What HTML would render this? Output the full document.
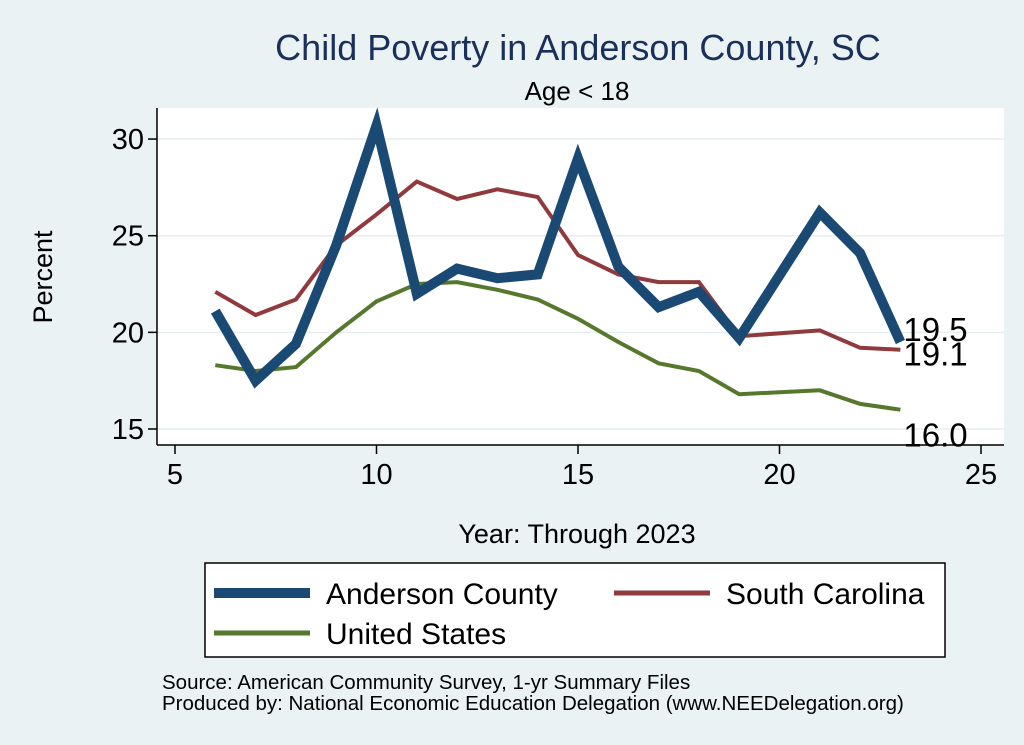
<!DOCTYPE html>
<html><head><meta charset="utf-8"><style>
body{margin:0;background:#eaf2f3;}
svg{display:block;font-family:"Liberation Sans",sans-serif;}
</style></head><body>
<svg width="1024" height="745" viewBox="0 0 1024 745">
<rect x="0" y="0" width="1024" height="745" fill="#eaf2f3"/>
<text x="578" y="60" font-size="36" fill="#1a2f5a" text-anchor="middle">Child Poverty in Anderson County, SC</text>
<text x="577" y="100" font-size="26" text-anchor="middle">Age &lt; 18</text>
<rect x="157" y="108" width="847" height="337" fill="#fff"/>
<g id="grid"></g>
<g id="axes"></g>
<g id="series"></g>
<text x="52" y="277" font-size="27" text-anchor="middle" transform="rotate(-90 52 277)">Percent</text>
<text x="577" y="543" font-size="27" text-anchor="middle">Year: Through 2023</text>
<g>
<rect x="205" y="563" width="740" height="94" fill="#fff" stroke="#000" stroke-width="1.5"/>
<line x1="214" y1="593" x2="310" y2="593" stroke="#1a4a74" stroke-width="10"/>
<text x="326" y="604" font-size="30">Anderson County</text>
<line x1="614" y1="593" x2="710" y2="593" stroke="#913a3d" stroke-width="5"/>
<text x="726" y="604" font-size="30">South Carolina</text>
<line x1="214" y1="633" x2="310" y2="633" stroke="#55782c" stroke-width="5"/>
<text x="326" y="644" font-size="30">United States</text>
</g>
<text x="162" y="689" font-size="20.5">Source: American Community Survey, 1-yr Summary Files</text>
<text x="162" y="710" font-size="20.5">Produced by: National Economic Education Delegation (www.NEEDelegation.org)</text>
</svg>
<script>
const years=[6,7,8,9,10,11,12,13,14,15,16,17,18,19,21,22,23];
const anderson=[21.1,17.5,19.4,24.5,30.7,22.0,23.3,22.8,23.0,29.0,23.4,21.3,22.1,19.7,26.2,24.1,19.5];
const sc=[22.1,20.9,21.7,24.5,26.1,27.8,26.9,27.4,27.0,24.0,23.0,22.6,22.6,19.8,20.1,19.2,19.1];
const us=[18.3,18.0,18.2,20.0,21.6,22.5,22.6,22.2,21.7,20.7,19.5,18.4,18.0,16.8,17.0,16.3,16.0];
const xTicks=[5,10,15,20,25];
const yTicks=[15,20,25,30];
const NS="http://www.w3.org/2000/svg";
const xs=v=>175+(v-5)*40.3;
const ys=v=>429-(v-15)*19.33;
function mk(tag,attrs,parent,txt){const e=document.createElementNS(NS,tag);for(const k in attrs)e.setAttribute(k,attrs[k]);if(txt!==undefined)e.textContent=txt;document.getElementById(parent).appendChild(e);return e;}
yTicks.forEach(t=>{
 const g=mk('line',{x1:157,x2:1004,y1:ys(t),y2:ys(t),stroke:'#e6eef0','stroke-width':1.5},'grid');
 
 
 const tk=mk('line',{x1:148,x2:157,y1:ys(t),y2:ys(t),stroke:'#000','stroke-width':1.5},'axes');
 
 
 const l=mk('text',{x:144,y:ys(t)+10,'font-size':29,'text-anchor':'end'},'axes',String(t));
 
 
});
xTicks.forEach(t=>{
 const tk=mk('line',{x1:xs(t),x2:xs(t),y1:445,y2:454,stroke:'#000','stroke-width':1.5},'axes');
 
 
 const l=mk('text',{x:xs(t),y:484,'font-size':29,'text-anchor':'middle'},'axes',String(t));
 
 
});
const ya=mk('line',{x1:157,x2:157,y1:108,y2:445,stroke:'#000','stroke-width':1.5},'axes');


const xa=mk('line',{x1:157,x2:1004,y1:445,y2:445,stroke:'#000','stroke-width':1.5},'axes');


function series(vals,color,w,name,dy){
 const d=vals.map((v,i)=>(i?'L':'M')+xs(years[i]).toFixed(1)+' '+ys(v).toFixed(1)).join(' ');
 const p=mk('path',{d:d,fill:'none',stroke:color,'stroke-width':w,'stroke-linejoin':'miter'},'series');
 
 
 const last=vals[vals.length-1];
 const l=mk('text',{x:xs(years[years.length-1])+3,y:ys(last)+dy,'font-size':33},'series',last.toFixed(1));
 
 
}
series(us,'#55782c',4,'united-states',37);
series(sc,'#913a3d',4,'south-carolina',16);
series(anderson,'#1a4a74',10,'anderson-county',-1);
</script>
</body></html>
